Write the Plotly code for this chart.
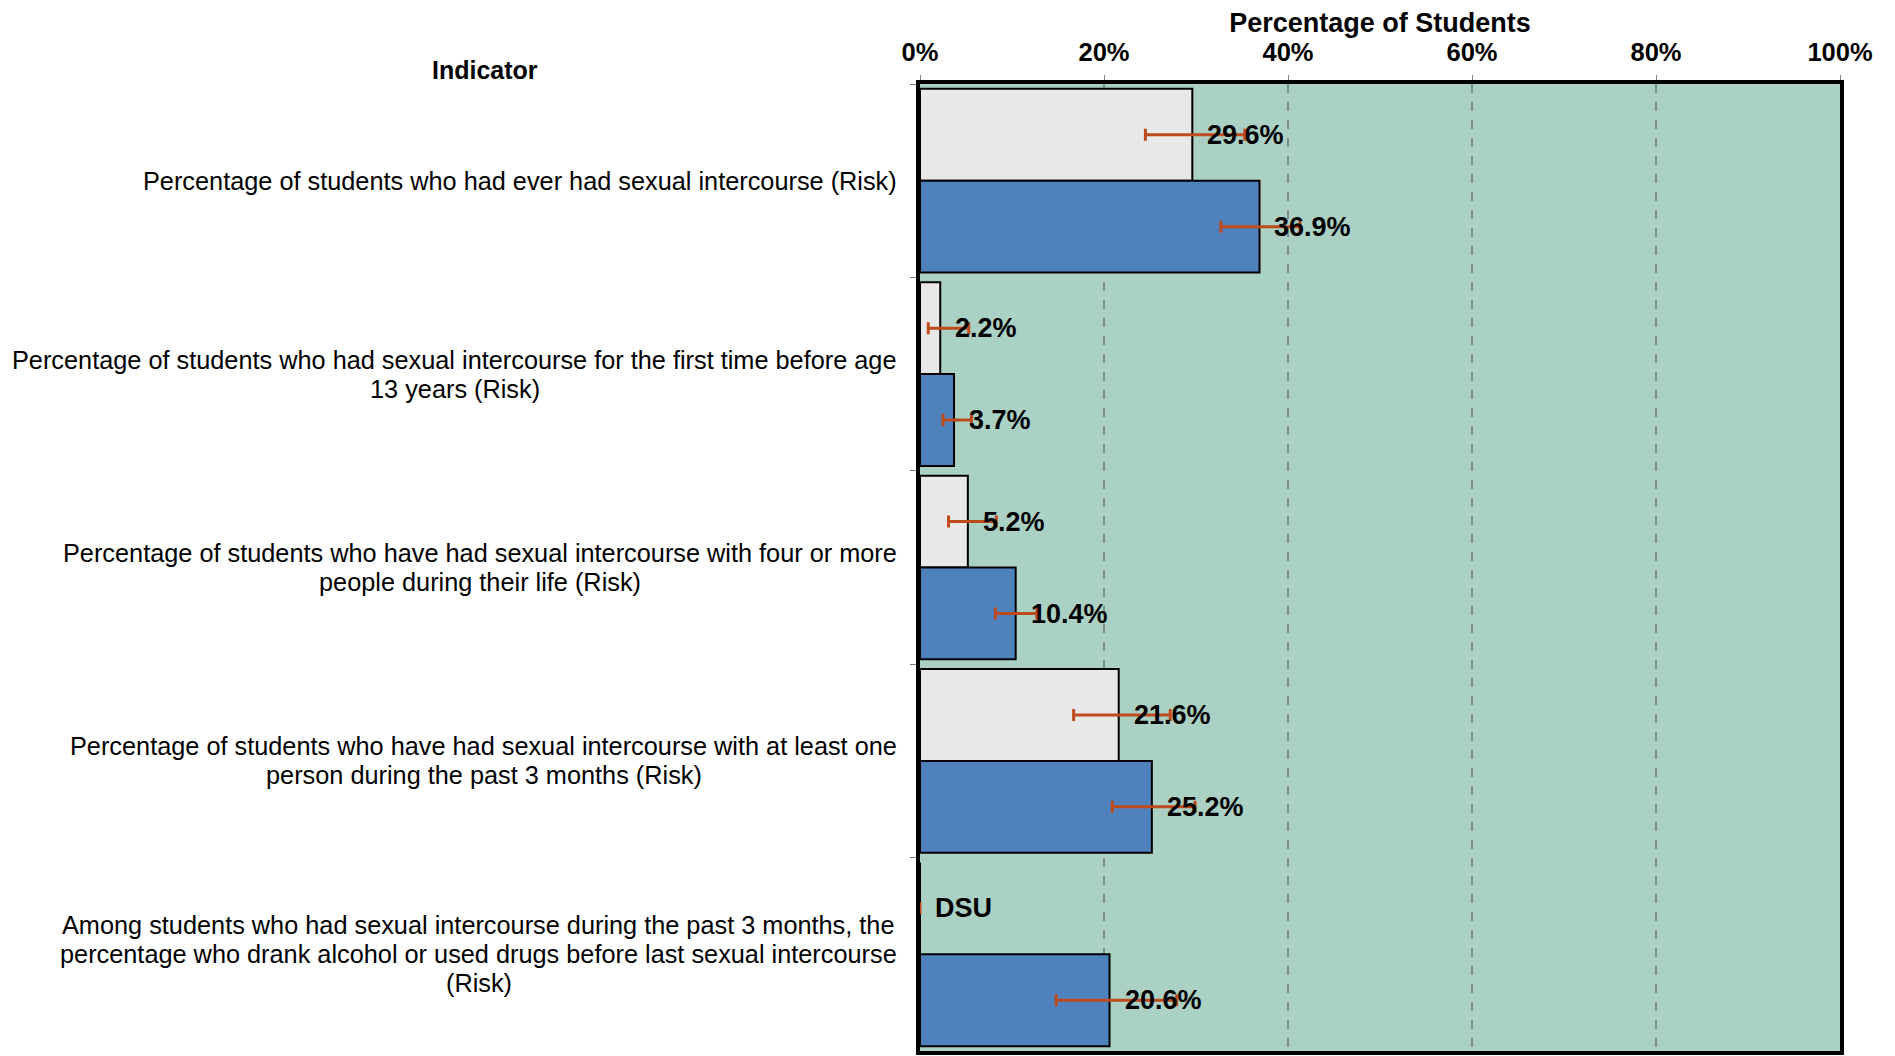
import plotly.graph_objects as go

indicators = [
    "Percentage of students who had ever had sexual intercourse (Risk)",
    "Percentage of students who had sexual intercourse for the first time before age<br>13 years (Risk)",
    "Percentage of students who have had sexual intercourse with four or more<br>people during their life (Risk)",
    "Percentage of students who have had sexual intercourse with at least one<br>person during the past 3 months (Risk)",
    "Among students who had sexual intercourse during the past 3 months, the<br>percentage who drank alcohol or used drugs before last sexual intercourse<br>(Risk)",
]

# Series 1 (light grey bars)
s1_values = [29.6, 2.2, 5.2, 21.6, 0.0]
s1_lower = [24.5, 0.9, 3.1, 16.7, 0.0]
s1_upper = [35.3, 5.3, 8.3, 27.2, 0.0]
s1_labels = ["29.6%", "2.2%", "5.2%", "21.6%", "DSU"]

# Series 2 (blue bars)
s2_values = [36.9, 3.7, 10.4, 25.2, 20.6]
s2_lower = [32.7, 2.5, 8.2, 20.9, 14.8]
s2_upper = [41.3, 5.6, 12.7, 29.9, 27.9]
s2_labels = ["36.9%", "3.7%", "10.4%", "25.2%", "20.6%"]

x_ticks = [0, 20, 40, 60, 80, 100]

FONT = "Arial, Liberation Sans, sans-serif"
ERR = "#BE4B1E"
LABEL_SIZE = 25.3
LINE_STEP = 29  # px between lines of category labels

# Arial / Liberation Sans advance widths (units per 1000 em) for centring lines
_W = {" ": 278, "(": 333, ")": 333, ",": 278, ".": 278, "-": 333,
      "a": 556, "b": 556, "c": 500, "d": 556, "e": 556, "f": 278, "g": 556, "h": 556,
      "i": 222, "j": 222, "k": 500, "l": 222, "m": 833, "n": 556, "o": 556, "p": 556,
      "q": 556, "r": 333, "s": 500, "t": 278, "u": 556, "v": 500, "w": 722, "x": 500,
      "y": 500, "z": 500, "A": 667, "P": 667, "R": 722}

def text_width(s, size):
    return sum(_W.get(c, 556) for c in s) * size / 1000.0

def err(vals, lo, hi):
    return dict(type="data", symmetric=False,
                array=[h - v for v, h in zip(vals, hi)],
                arrayminus=[v - l for v, l in zip(vals, lo)],
                color=ERR, thickness=3, width=6)

fig = go.Figure()
fig.add_trace(go.Bar(
    y=indicators, x=s1_values, orientation="h",
    marker=dict(color="#E8E8E8", line=dict(color="black", width=2)),
    error_x=err(s1_values, s1_lower, s1_upper), showlegend=False,
))
fig.add_trace(go.Bar(
    y=indicators, x=s2_values, orientation="h",
    marker=dict(color="#4F81BD", line=dict(color="black", width=2)),
    error_x=err(s2_values, s2_lower, s2_upper), showlegend=False,
))

annotations = []
for cat, v, t in zip(indicators, s1_values, s1_labels):
    annotations.append(dict(x=v, y=cat, xref="x", yref="y", text=t, showarrow=False,
                            xanchor="left", yanchor="middle", xshift=13, yshift=46,
                            font=dict(family=FONT, size=27, color="black", weight="bold")))
for cat, v, t in zip(indicators, s2_values, s2_labels):
    annotations.append(dict(x=v, y=cat, xref="x", yref="y", text=t, showarrow=False,
                            xanchor="left", yanchor="middle", xshift=13, yshift=-46,
                            font=dict(family=FONT, size=27, color="black", weight="bold")))

# category labels: lines centred on a common axis, right edge near the plot
for cat in indicators:
    lines = cat.split("<br>")
    n = len(lines)
    maxw = max(text_width(ln, LABEL_SIZE) for ln in lines)
    for i, ln in enumerate(lines):
        off = ((n - 1) / 2 - i) * LINE_STEP
        annotations.append(dict(x=0, y=cat, xref="paper", yref="y", text=ln, showarrow=False,
                                xanchor="center", yanchor="middle",
                                xshift=-23 - maxw / 2, yshift=off,
                                font=dict(family=FONT, size=LABEL_SIZE, color="black")))

annotations.append(dict(x=-0.4728, y=1.0144, xref="paper", yref="paper", text="Indicator",
                        showarrow=False, xanchor="center", yanchor="middle",
                        font=dict(family=FONT, size=25, color="black", weight="bold")))

fig.update_layout(
    width=1887, height=1048,
    margin=dict(l=912, r=55, t=76, b=1),
    paper_bgcolor="white", plot_bgcolor="#ABD1C4",
    barmode="group", bargap=0.05, bargroupgap=0,
    font=dict(family=FONT, color="black"),
    annotations=annotations,
    xaxis=dict(
        side="top", range=[0, 100], tickvals=x_ticks, ticktext=[f"{v}%" for v in x_ticks],
        tickfont=dict(family=FONT, size=25.5, weight="bold"), ticklabelstandoff=4,
        title=dict(text="Percentage of Students", standoff=0,
                   font=dict(family=FONT, size=27, weight="bold")),
        showgrid=True, gridcolor="#7D8F88", griddash="dash", gridwidth=2,
        ticks="outside", ticklen=5, tickcolor="#888888", tickwidth=1,
        showline=True, linecolor="black", linewidth=4, mirror=True, zeroline=False,
    ),
    yaxis=dict(
        autorange="reversed", showticklabels=False, tickson="boundaries",
        ticks="outside", ticklen=6, tickcolor="#777777", tickwidth=1,
        showline=True, linecolor="black", linewidth=4, mirror=True, showgrid=False,
    ),
)

fig.write_html("out.html")
